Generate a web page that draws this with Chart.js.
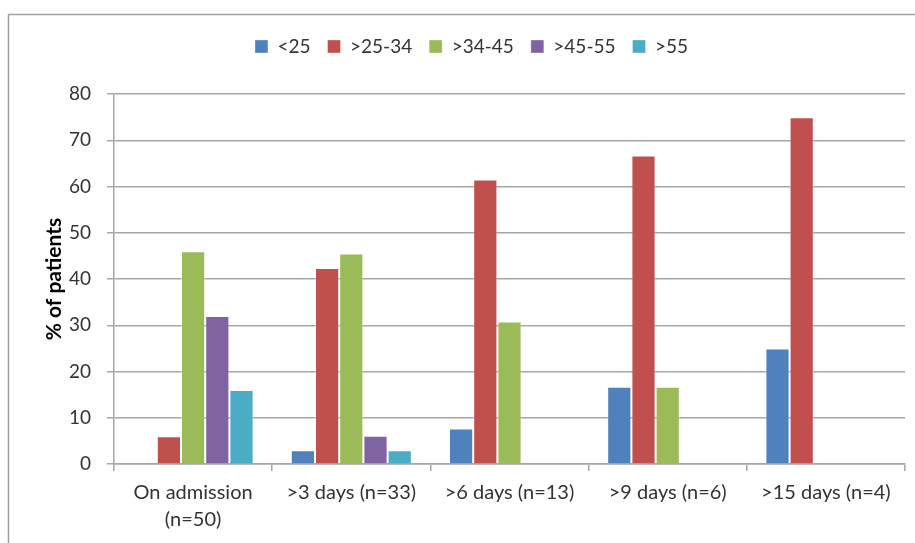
<!DOCTYPE html>
<html>
<head>
<meta charset="utf-8">
<script src="https://cdn.jsdelivr.net/npm/chart.js@4/dist/chart.umd.min.js"></script>
<style>
  body { margin: 0; background: #fff; }
  #wrap { width: 915px; height: 543px; }
</style>
</head>
<body>
<div id="wrap"><canvas id="chart" width="915" height="543"></canvas></div>
<script>
// categories and series (% of patients per BMI group)
const categories = [
  ['On admission', '(n=50)'],
  '>3 days (n=33)',
  '>6 days (n=13)',
  '>9 days (n=6)',
  '>15 days (n=4)',
];
const seriesNames = ['<25', '>25-34', '>34-45', '>45-55', '>55'];
const under25 = [0, 3.0, 7.7, 16.7, 25];
const from25to34 = [6, 42.4, 61.5, 66.7, 75];
const from34to45 = [46, 45.5, 30.8, 16.7, 0];
const from45to55 = [32, 6.1, 0, 0, 0];
const over55 = [16, 3.0, 0, 0, 0];
const yTicks = [0, 10, 20, 30, 40, 50, 60, 70, 80];

const colors = ['#4F81BD', '#C0504D', '#9BBB59', '#8064A2', '#4BACC6'];
const seriesValues = [under25, from25to34, from34to45, from45to55, over55];

const GRID = '#a6a6a6';
const TEXT = '#333333';
const FONT = 'Lato, "Noto Sans", sans-serif';

// outer frame like the excel chart border
const framePlugin = {
  id: 'frame',
  beforeDraw(chart) {
    const ctx = chart.ctx;
    ctx.save();
    ctx.strokeStyle = '#a0a0a0';
    ctx.lineWidth = 1.5;
    ctx.strokeRect(8.5, 14.5, 1000, 1000);
    ctx.restore();
  },
};

// extra gap under the legend, and nudge it right a bit
const legendSpacer = {
  id: 'legendSpacer',
  beforeLayout(chart) {
    const legend = chart.legend;
    if (!legend || legend._spaced) return;
    const fit = legend.fit;
    legend.fit = function () {
      fit.call(this);
      this.height += 28;
    };
    legend._spaced = true;
  },
  afterLayout(chart) {
    const legend = chart.legend;
    legend.left += 15;
    legend.right += 15;
  },
};

const ctx = document.getElementById('chart');
new Chart(ctx, {
  type: 'bar',
  data: {
    labels: categories,
    datasets: seriesNames.map((name, i) => ({
      label: name,
      data: seriesValues[i],
      backgroundColor: colors[i],
      borderColor: 'rgba(255,255,255,0.35)',
      borderWidth: 1,
      categoryPercentage: 0.765,
      barPercentage: 1,
    })),
  },
  options: {
    responsive: false,
    animation: false,
    layout: { padding: { top: 20, left: 8, right: 10, bottom: 0 } },
    plugins: {
      tooltip: { enabled: false },
      legend: {
        position: 'top',
        labels: {
          boxWidth: 13,
          boxHeight: 13,
          padding: 17,
          color: TEXT,
          font: { family: FONT, size: 19 },
        },
      },
    },
    scales: {
      x: {
        grid: {
          display: true,
          drawOnChartArea: false,
          offset: true,
          color: GRID,
          lineWidth: 1.5,
          tickLength: 7,
        },
        border: { color: GRID, width: 1.5 },
        ticks: {
          color: TEXT,
          font: { family: FONT, size: 20, lineHeight: 1.35 },
          padding: 8,
          maxRotation: 0,
          autoSkip: false,
        },
        afterFit: (scale) => { scale.height = 79; },
      },
      y: {
        min: 0,
        max: 80,
        afterBuildTicks: (scale) => {
          scale.ticks = yTicks.map((v) => ({ value: v }));
        },
        grid: {
          color: GRID,
          lineWidth: 1.5,
          tickLength: 7,
        },
        border: { color: GRID, width: 1.5 },
        ticks: {
          color: TEXT,
          font: { family: FONT, size: 19 },
          padding: 16,
        },
        title: {
          display: true,
          text: '% of patients',
          color: '#000',
          font: { family: FONT, size: 21, weight: 'bold' },
          padding: { top: 34, bottom: 0 },
        },
        afterFit: (scale) => { scale.width = 106; },
      },
    },
  },
  plugins: [framePlugin, legendSpacer],
});
</script>
</body>
</html>
